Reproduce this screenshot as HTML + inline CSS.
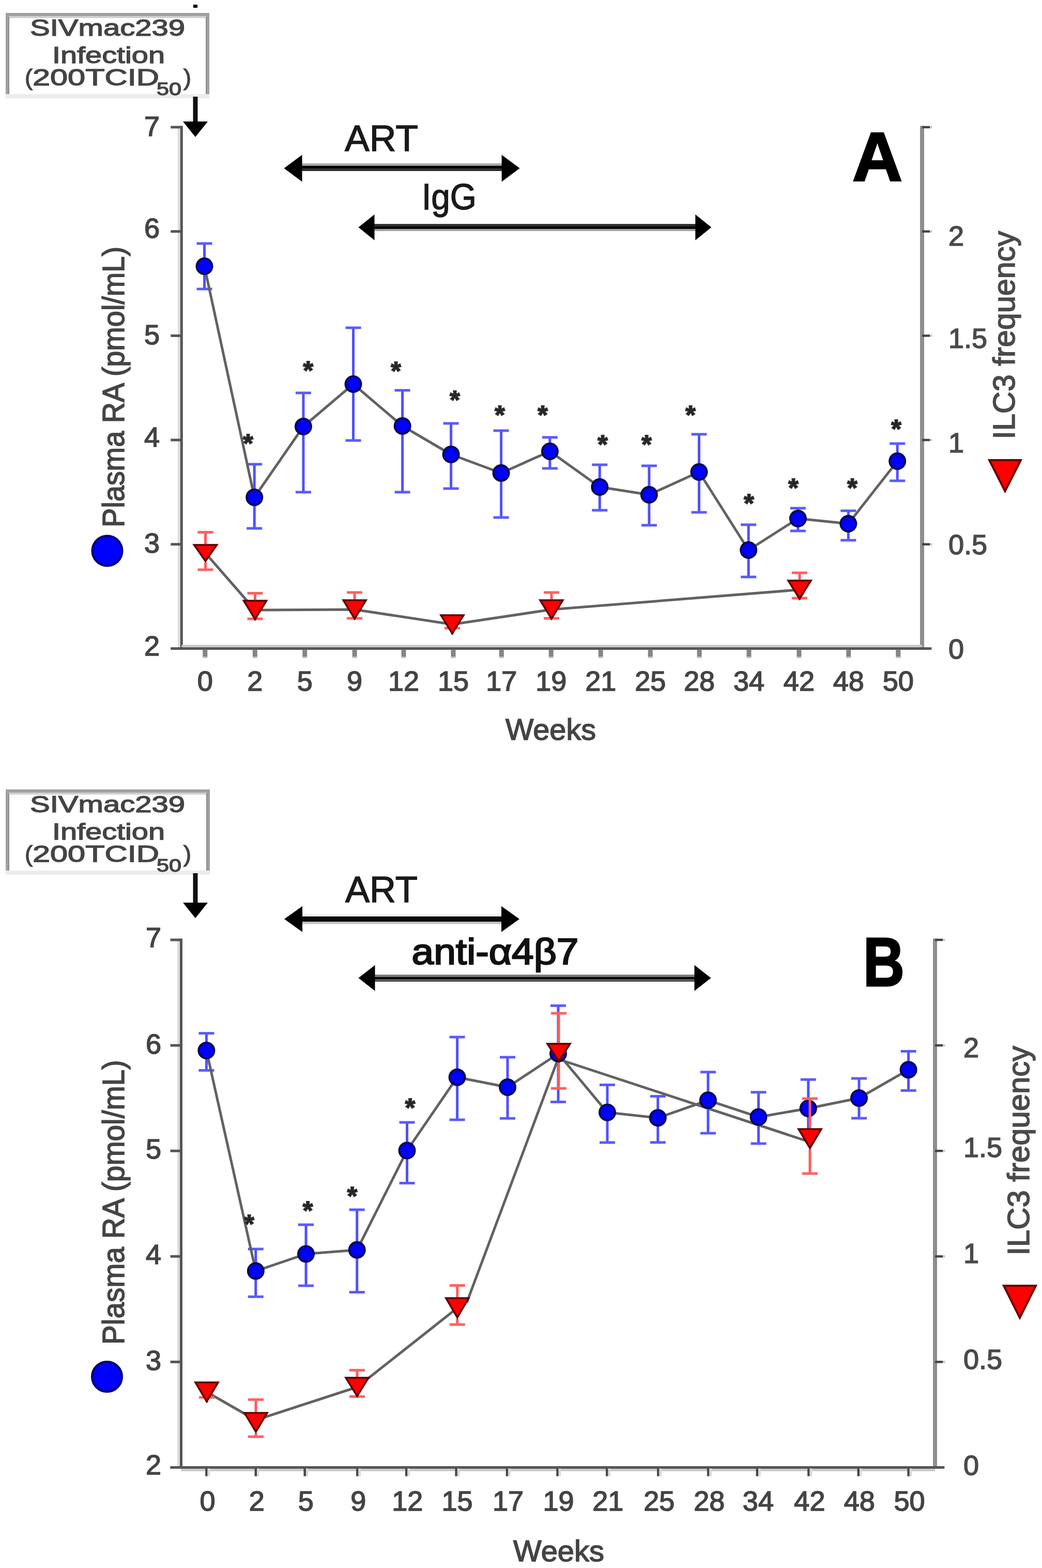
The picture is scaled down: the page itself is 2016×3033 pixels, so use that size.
<!DOCTYPE html><html><head><meta charset="utf-8"><title>Plasma RA and ILC3 frequency</title><style>html,body{margin:0;padding:0;background:#fff;}svg{display:block;}text{font-family:"Liberation Sans", Arial, sans-serif;}</style></head><body>
<svg width="2016" height="3033" viewBox="0 0 2016 3033">
<rect width="2016" height="3033" fill="#fff"/>
<rect x="374" y="9" width="8" height="6" fill="#000"/>
<rect x="14" y="28" width="388" height="159" fill="none" stroke="#a0a0a0" stroke-width="6"/>
<line x1="17" y1="33" x2="399" y2="33" stroke="#d0d0d0" stroke-width="4"/>
<line x1="17" y1="33" x2="17" y2="184" stroke="#8c8c8c" stroke-width="2"/>
<line x1="399" y1="33" x2="399" y2="184" stroke="#8c8c8c" stroke-width="2"/>
<line x1="11" y1="186" x2="405" y2="186" stroke="#ececec" stroke-width="8"/>
<text x="208" y="69" font-size="45" text-anchor="middle" fill="#444" stroke="#444" stroke-width="1.4" textLength="300" lengthAdjust="spacingAndGlyphs">SIVmac239</text>
<text x="210" y="121.5" font-size="45" text-anchor="middle" fill="#444" stroke="#444" stroke-width="1.4" textLength="218" lengthAdjust="spacingAndGlyphs">Infection</text>
<text x="48" y="165" font-size="45" fill="#444" stroke="#444" stroke-width="1.4">(<tspan textLength="245" lengthAdjust="spacingAndGlyphs">200TCID</tspan><tspan x="303" font-size="35" dy="19" textLength="48" lengthAdjust="spacingAndGlyphs">50</tspan><tspan x="355" dy="-19">)</tspan></text>
<line x1="378.0" y1="187.0" x2="378.0" y2="235.0" stroke="#111" stroke-width="9" />
<polygon points="354,235 402,235 378,265" fill="#000"/>
<rect x="579.5" y="316" width="396.1" height="4.6" fill="#aaa"/>
<rect x="579.5" y="320.6" width="396.1" height="5.6" fill="#000"/>
<rect x="579.5" y="326.2" width="396.1" height="4.6" fill="#2a2a2a"/>
<polygon points="549.5,325.5 584.5,299.5 584.5,351.5" fill="#000"/>
<polygon points="1005.6,325.5 970.6,299.5 970.6,351.5" fill="#000"/>
<rect x="723.5" y="433.2" width="622.8" height="4.6" fill="#2a2a2a"/>
<rect x="723.5" y="437.8" width="622.8" height="5.1" fill="#000"/>
<rect x="723.5" y="442.9" width="622.8" height="4.1" fill="#a4a4a4"/>
<polygon points="693.5,439.8 724.5,414.8 724.5,464.8" fill="#000"/>
<polygon points="1376.3,439.8 1345.3,414.8 1345.3,464.8" fill="#000"/>
<text x="738.0" y="291.7" font-size="70" text-anchor="middle" fill="#1a1a1a" font-weight="normal" textLength="142" lengthAdjust="spacingAndGlyphs" stroke="#1a1a1a" stroke-width="1.4">ART</text>
<text x="869.0" y="405.0" font-size="70" text-anchor="middle" fill="#1a1a1a" font-weight="normal" textLength="106" lengthAdjust="spacingAndGlyphs" stroke="#1a1a1a" stroke-width="1.4">IgG</text>
<text x="1697.5" y="350.0" font-size="134" text-anchor="middle" fill="#000" font-weight="bold" textLength="97" lengthAdjust="spacingAndGlyphs" stroke="#000" stroke-width="3">A</text>
<line x1="346.3" y1="246.0" x2="346.3" y2="1254.5" stroke="#dcdcdc" stroke-width="5" />
<line x1="351.3" y1="243.5" x2="351.3" y2="1257.0" stroke="#555" stroke-width="5" />
<line x1="330.3" y1="246.0" x2="351.3" y2="246.0" stroke="#555" stroke-width="5" />
<text x="309.0" y="263.0" font-size="54" text-anchor="end" fill="#444" font-weight="normal" stroke="#444" stroke-width="1.6">7</text>
<line x1="330.3" y1="447.7" x2="351.3" y2="447.7" stroke="#555" stroke-width="5" />
<text x="309.0" y="460.2" font-size="54" text-anchor="end" fill="#444" font-weight="normal" stroke="#444" stroke-width="1.6">6</text>
<line x1="330.3" y1="649.4" x2="351.3" y2="649.4" stroke="#555" stroke-width="5" />
<text x="309.0" y="666.3" font-size="54" text-anchor="end" fill="#444" font-weight="normal" stroke="#444" stroke-width="1.6">5</text>
<line x1="330.3" y1="851.1" x2="351.3" y2="851.1" stroke="#555" stroke-width="5" />
<text x="309.0" y="864.0" font-size="54" text-anchor="end" fill="#444" font-weight="normal" stroke="#444" stroke-width="1.6">4</text>
<line x1="330.3" y1="1052.8" x2="351.3" y2="1052.8" stroke="#555" stroke-width="5" />
<text x="309.0" y="1069.3" font-size="54" text-anchor="end" fill="#444" font-weight="normal" stroke="#444" stroke-width="1.6">3</text>
<line x1="330.3" y1="1254.5" x2="351.3" y2="1254.5" stroke="#555" stroke-width="5" />
<text x="309.0" y="1268.0" font-size="54" text-anchor="end" fill="#444" font-weight="normal" stroke="#444" stroke-width="1.6">2</text>
<line x1="1784.0" y1="243.5" x2="1784.0" y2="1257.0" stroke="#8e8e8e" stroke-width="8" />
<line x1="1784.0" y1="246.0" x2="1799.0" y2="246.0" stroke="#444" stroke-width="4.5" />
<line x1="1799.0" y1="246.0" x2="1803.5" y2="246.0" stroke="#c8c8c8" stroke-width="4.5" />
<line x1="1784.0" y1="447.7" x2="1799.0" y2="447.7" stroke="#444" stroke-width="4.5" />
<line x1="1799.0" y1="447.7" x2="1803.5" y2="447.7" stroke="#c8c8c8" stroke-width="4.5" />
<text x="1835.0" y="475.2" font-size="54" text-anchor="start" fill="#4a4a4a" font-weight="normal" stroke="#4a4a4a" stroke-width="1.6">2</text>
<line x1="1784.0" y1="649.4" x2="1799.0" y2="649.4" stroke="#444" stroke-width="4.5" />
<line x1="1799.0" y1="649.4" x2="1803.5" y2="649.4" stroke="#c8c8c8" stroke-width="4.5" />
<text x="1835.0" y="672.9" font-size="54" text-anchor="start" fill="#4a4a4a" font-weight="normal" stroke="#4a4a4a" stroke-width="1.6">1.5</text>
<line x1="1784.0" y1="851.1" x2="1799.0" y2="851.1" stroke="#444" stroke-width="4.5" />
<line x1="1799.0" y1="851.1" x2="1803.5" y2="851.1" stroke="#c8c8c8" stroke-width="4.5" />
<text x="1835.0" y="874.6" font-size="54" text-anchor="start" fill="#4a4a4a" font-weight="normal" stroke="#4a4a4a" stroke-width="1.6">1</text>
<line x1="1784.0" y1="1052.8" x2="1799.0" y2="1052.8" stroke="#444" stroke-width="4.5" />
<line x1="1799.0" y1="1052.8" x2="1803.5" y2="1052.8" stroke="#c8c8c8" stroke-width="4.5" />
<text x="1835.0" y="1072.3" font-size="54" text-anchor="start" fill="#4a4a4a" font-weight="normal" stroke="#4a4a4a" stroke-width="1.6">0.5</text>
<line x1="1784.0" y1="1254.5" x2="1799.0" y2="1254.5" stroke="#444" stroke-width="4.5" />
<line x1="1799.0" y1="1254.5" x2="1803.5" y2="1254.5" stroke="#c8c8c8" stroke-width="4.5" />
<text x="1835.0" y="1274.0" font-size="54" text-anchor="start" fill="#4a4a4a" font-weight="normal" stroke="#4a4a4a" stroke-width="1.6">0</text>
<line x1="330.3" y1="1254.5" x2="1802.0" y2="1254.5" stroke="#555" stroke-width="5" />
<line x1="351.3" y1="1249.5" x2="1784.0" y2="1249.5" stroke="#c8c8c8" stroke-width="4.5" />
<line x1="396.8" y1="1256.5" x2="396.8" y2="1270.5" stroke="#858585" stroke-width="9" />
<line x1="396.8" y1="1270.5" x2="396.8" y2="1273.0" stroke="#c0c0c0" stroke-width="9" />
<text x="396.8" y="1336.0" font-size="54" text-anchor="middle" fill="#444" font-weight="normal" stroke="#444" stroke-width="1.6">0</text>
<line x1="493.3" y1="1256.5" x2="493.3" y2="1270.5" stroke="#858585" stroke-width="9" />
<line x1="493.3" y1="1270.5" x2="493.3" y2="1273.0" stroke="#c0c0c0" stroke-width="9" />
<text x="493.3" y="1336.0" font-size="54" text-anchor="middle" fill="#444" font-weight="normal" stroke="#444" stroke-width="1.6">2</text>
<line x1="589.7" y1="1256.5" x2="589.7" y2="1270.5" stroke="#858585" stroke-width="9" />
<line x1="589.7" y1="1270.5" x2="589.7" y2="1273.0" stroke="#c0c0c0" stroke-width="9" />
<text x="589.7" y="1336.0" font-size="54" text-anchor="middle" fill="#444" font-weight="normal" stroke="#444" stroke-width="1.6">5</text>
<line x1="686.1" y1="1256.5" x2="686.1" y2="1270.5" stroke="#858585" stroke-width="9" />
<line x1="686.1" y1="1270.5" x2="686.1" y2="1273.0" stroke="#c0c0c0" stroke-width="9" />
<text x="686.1" y="1336.0" font-size="54" text-anchor="middle" fill="#444" font-weight="normal" stroke="#444" stroke-width="1.6">9</text>
<line x1="781.0" y1="1256.5" x2="781.0" y2="1270.5" stroke="#858585" stroke-width="9" />
<line x1="781.0" y1="1270.5" x2="781.0" y2="1273.0" stroke="#c0c0c0" stroke-width="9" />
<text x="781.0" y="1336.0" font-size="54" text-anchor="middle" fill="#444" font-weight="normal" stroke="#444" stroke-width="1.6">12</text>
<line x1="877.0" y1="1256.5" x2="877.0" y2="1270.5" stroke="#858585" stroke-width="9" />
<line x1="877.0" y1="1270.5" x2="877.0" y2="1273.0" stroke="#c0c0c0" stroke-width="9" />
<text x="877.0" y="1336.0" font-size="54" text-anchor="middle" fill="#444" font-weight="normal" stroke="#444" stroke-width="1.6">15</text>
<line x1="970.3" y1="1256.5" x2="970.3" y2="1270.5" stroke="#858585" stroke-width="9" />
<line x1="970.3" y1="1270.5" x2="970.3" y2="1273.0" stroke="#c0c0c0" stroke-width="9" />
<text x="970.3" y="1336.0" font-size="54" text-anchor="middle" fill="#444" font-weight="normal" stroke="#444" stroke-width="1.6">17</text>
<line x1="1066.2" y1="1256.5" x2="1066.2" y2="1270.5" stroke="#858585" stroke-width="9" />
<line x1="1066.2" y1="1270.5" x2="1066.2" y2="1273.0" stroke="#c0c0c0" stroke-width="9" />
<text x="1066.2" y="1336.0" font-size="54" text-anchor="middle" fill="#444" font-weight="normal" stroke="#444" stroke-width="1.6">19</text>
<line x1="1162.2" y1="1256.5" x2="1162.2" y2="1270.5" stroke="#858585" stroke-width="9" />
<line x1="1162.2" y1="1270.5" x2="1162.2" y2="1273.0" stroke="#c0c0c0" stroke-width="9" />
<text x="1162.2" y="1336.0" font-size="54" text-anchor="middle" fill="#444" font-weight="normal" stroke="#444" stroke-width="1.6">21</text>
<line x1="1258.2" y1="1256.5" x2="1258.2" y2="1270.5" stroke="#858585" stroke-width="9" />
<line x1="1258.2" y1="1270.5" x2="1258.2" y2="1273.0" stroke="#c0c0c0" stroke-width="9" />
<text x="1258.2" y="1336.0" font-size="54" text-anchor="middle" fill="#444" font-weight="normal" stroke="#444" stroke-width="1.6">25</text>
<line x1="1353.1" y1="1256.5" x2="1353.1" y2="1270.5" stroke="#858585" stroke-width="9" />
<line x1="1353.1" y1="1270.5" x2="1353.1" y2="1273.0" stroke="#c0c0c0" stroke-width="9" />
<text x="1353.1" y="1336.0" font-size="54" text-anchor="middle" fill="#444" font-weight="normal" stroke="#444" stroke-width="1.6">28</text>
<line x1="1449.0" y1="1256.5" x2="1449.0" y2="1270.5" stroke="#858585" stroke-width="9" />
<line x1="1449.0" y1="1270.5" x2="1449.0" y2="1273.0" stroke="#c0c0c0" stroke-width="9" />
<text x="1449.0" y="1336.0" font-size="54" text-anchor="middle" fill="#444" font-weight="normal" stroke="#444" stroke-width="1.6">34</text>
<line x1="1545.9" y1="1256.5" x2="1545.9" y2="1270.5" stroke="#858585" stroke-width="9" />
<line x1="1545.9" y1="1270.5" x2="1545.9" y2="1273.0" stroke="#c0c0c0" stroke-width="9" />
<text x="1545.9" y="1336.0" font-size="54" text-anchor="middle" fill="#444" font-weight="normal" stroke="#444" stroke-width="1.6">42</text>
<line x1="1641.8" y1="1256.5" x2="1641.8" y2="1270.5" stroke="#858585" stroke-width="9" />
<line x1="1641.8" y1="1270.5" x2="1641.8" y2="1273.0" stroke="#c0c0c0" stroke-width="9" />
<text x="1641.8" y="1336.0" font-size="54" text-anchor="middle" fill="#444" font-weight="normal" stroke="#444" stroke-width="1.6">48</text>
<line x1="1737.8" y1="1256.5" x2="1737.8" y2="1270.5" stroke="#858585" stroke-width="9" />
<line x1="1737.8" y1="1270.5" x2="1737.8" y2="1273.0" stroke="#c0c0c0" stroke-width="9" />
<text x="1737.8" y="1336.0" font-size="54" text-anchor="middle" fill="#444" font-weight="normal" stroke="#444" stroke-width="1.6">50</text>
<text x="978.0" y="1431.0" font-size="58" text-anchor="start" fill="#444" font-weight="normal" textLength="175" lengthAdjust="spacingAndGlyphs" stroke="#444" stroke-width="1.6">Weeks</text>
<text transform="translate(240,1020) rotate(-90)" font-size="60" fill="#444" stroke="#444" stroke-width="1.6" textLength="543" lengthAdjust="spacingAndGlyphs">Plasma RA (pmol/mL)</text>
<text transform="translate(1963,849.7) rotate(-90)" font-size="59" fill="#4a4a4a" stroke="#4a4a4a" stroke-width="1.6" textLength="402.90000000000003" lengthAdjust="spacingAndGlyphs">ILC3 frequency</text>
<circle cx="207.5" cy="1065.5" r="29" fill="#0000ff" stroke="#000070" stroke-width="4"/>
<polygon points="1914,890 1975,890 1944.5,950" fill="#ff0000" stroke="#6a0000" stroke-width="4" stroke-linejoin="miter"/>
<line x1="395.5" y1="471.0" x2="395.5" y2="515.0" stroke="#5050ff" stroke-width="5" />
<line x1="380.5" y1="471.0" x2="410.5" y2="471.0" stroke="#5a5aff" stroke-width="5" />
<line x1="395.5" y1="515.0" x2="395.5" y2="559.0" stroke="#5050ff" stroke-width="5" />
<line x1="380.5" y1="559.0" x2="410.5" y2="559.0" stroke="#5a5aff" stroke-width="5" />
<line x1="492.2" y1="898.0" x2="492.2" y2="962.0" stroke="#5050ff" stroke-width="5" />
<line x1="477.2" y1="898.0" x2="507.2" y2="898.0" stroke="#5a5aff" stroke-width="5" />
<line x1="492.2" y1="962.0" x2="492.2" y2="1022.0" stroke="#5050ff" stroke-width="5" />
<line x1="477.2" y1="1022.0" x2="507.2" y2="1022.0" stroke="#5a5aff" stroke-width="5" />
<line x1="586.9" y1="760.0" x2="586.9" y2="825.0" stroke="#5050ff" stroke-width="5" />
<line x1="571.9" y1="760.0" x2="601.9" y2="760.0" stroke="#5a5aff" stroke-width="5" />
<line x1="586.9" y1="825.0" x2="586.9" y2="952.0" stroke="#5050ff" stroke-width="5" />
<line x1="571.9" y1="952.0" x2="601.9" y2="952.0" stroke="#5a5aff" stroke-width="5" />
<line x1="683.5" y1="634.0" x2="683.5" y2="743.0" stroke="#5050ff" stroke-width="5" />
<line x1="668.5" y1="634.0" x2="698.5" y2="634.0" stroke="#5a5aff" stroke-width="5" />
<line x1="683.5" y1="743.0" x2="683.5" y2="852.0" stroke="#5050ff" stroke-width="5" />
<line x1="668.5" y1="852.0" x2="698.5" y2="852.0" stroke="#5a5aff" stroke-width="5" />
<line x1="778.6" y1="755.0" x2="778.6" y2="824.0" stroke="#5050ff" stroke-width="5" />
<line x1="763.6" y1="755.0" x2="793.6" y2="755.0" stroke="#5a5aff" stroke-width="5" />
<line x1="778.6" y1="824.0" x2="778.6" y2="952.0" stroke="#5050ff" stroke-width="5" />
<line x1="763.6" y1="952.0" x2="793.6" y2="952.0" stroke="#5a5aff" stroke-width="5" />
<line x1="872.6" y1="819.0" x2="872.6" y2="879.0" stroke="#5050ff" stroke-width="5" />
<line x1="857.6" y1="819.0" x2="887.6" y2="819.0" stroke="#5a5aff" stroke-width="5" />
<line x1="872.6" y1="879.0" x2="872.6" y2="945.0" stroke="#5050ff" stroke-width="5" />
<line x1="857.6" y1="945.0" x2="887.6" y2="945.0" stroke="#5a5aff" stroke-width="5" />
<line x1="969.6" y1="833.0" x2="969.6" y2="915.0" stroke="#5050ff" stroke-width="5" />
<line x1="954.6" y1="833.0" x2="984.6" y2="833.0" stroke="#5a5aff" stroke-width="5" />
<line x1="969.6" y1="915.0" x2="969.6" y2="1001.0" stroke="#5050ff" stroke-width="5" />
<line x1="954.6" y1="1001.0" x2="984.6" y2="1001.0" stroke="#5a5aff" stroke-width="5" />
<line x1="1063.9" y1="846.0" x2="1063.9" y2="873.0" stroke="#5050ff" stroke-width="5" />
<line x1="1048.9" y1="846.0" x2="1078.9" y2="846.0" stroke="#5a5aff" stroke-width="5" />
<line x1="1063.9" y1="873.0" x2="1063.9" y2="906.0" stroke="#5050ff" stroke-width="5" />
<line x1="1048.9" y1="906.0" x2="1078.9" y2="906.0" stroke="#5a5aff" stroke-width="5" />
<line x1="1160.3" y1="899.0" x2="1160.3" y2="942.0" stroke="#5050ff" stroke-width="5" />
<line x1="1145.3" y1="899.0" x2="1175.3" y2="899.0" stroke="#5a5aff" stroke-width="5" />
<line x1="1160.3" y1="942.0" x2="1160.3" y2="987.0" stroke="#5050ff" stroke-width="5" />
<line x1="1145.3" y1="987.0" x2="1175.3" y2="987.0" stroke="#5a5aff" stroke-width="5" />
<line x1="1255.9" y1="901.0" x2="1255.9" y2="957.0" stroke="#5050ff" stroke-width="5" />
<line x1="1240.9" y1="901.0" x2="1270.9" y2="901.0" stroke="#5a5aff" stroke-width="5" />
<line x1="1255.9" y1="957.0" x2="1255.9" y2="1016.0" stroke="#5050ff" stroke-width="5" />
<line x1="1240.9" y1="1016.0" x2="1270.9" y2="1016.0" stroke="#5a5aff" stroke-width="5" />
<line x1="1352.5" y1="840.0" x2="1352.5" y2="913.0" stroke="#5050ff" stroke-width="5" />
<line x1="1337.5" y1="840.0" x2="1367.5" y2="840.0" stroke="#5a5aff" stroke-width="5" />
<line x1="1352.5" y1="913.0" x2="1352.5" y2="991.0" stroke="#5050ff" stroke-width="5" />
<line x1="1337.5" y1="991.0" x2="1367.5" y2="991.0" stroke="#5a5aff" stroke-width="5" />
<line x1="1448.2" y1="1015.0" x2="1448.2" y2="1064.0" stroke="#5050ff" stroke-width="5" />
<line x1="1433.2" y1="1015.0" x2="1463.2" y2="1015.0" stroke="#5a5aff" stroke-width="5" />
<line x1="1448.2" y1="1064.0" x2="1448.2" y2="1116.0" stroke="#5050ff" stroke-width="5" />
<line x1="1433.2" y1="1116.0" x2="1463.2" y2="1116.0" stroke="#5a5aff" stroke-width="5" />
<line x1="1543.9" y1="983.0" x2="1543.9" y2="1003.0" stroke="#5050ff" stroke-width="5" />
<line x1="1528.9" y1="983.0" x2="1558.9" y2="983.0" stroke="#5a5aff" stroke-width="5" />
<line x1="1543.9" y1="1003.0" x2="1543.9" y2="1027.0" stroke="#5050ff" stroke-width="5" />
<line x1="1528.9" y1="1027.0" x2="1558.9" y2="1027.0" stroke="#5a5aff" stroke-width="5" />
<line x1="1641.3" y1="988.0" x2="1641.3" y2="1013.0" stroke="#5050ff" stroke-width="5" />
<line x1="1626.3" y1="988.0" x2="1656.3" y2="988.0" stroke="#5a5aff" stroke-width="5" />
<line x1="1641.3" y1="1013.0" x2="1641.3" y2="1045.0" stroke="#5050ff" stroke-width="5" />
<line x1="1626.3" y1="1045.0" x2="1656.3" y2="1045.0" stroke="#5a5aff" stroke-width="5" />
<line x1="1736.2" y1="858.0" x2="1736.2" y2="892.0" stroke="#5050ff" stroke-width="5" />
<line x1="1721.2" y1="858.0" x2="1751.2" y2="858.0" stroke="#5a5aff" stroke-width="5" />
<line x1="1736.2" y1="892.0" x2="1736.2" y2="930.0" stroke="#5050ff" stroke-width="5" />
<line x1="1721.2" y1="930.0" x2="1751.2" y2="930.0" stroke="#5a5aff" stroke-width="5" />
<polyline points="395.5,515.0 492.2,962.0 586.9,825.0 683.5,743.0 778.6,824.0 872.6,879.0 969.6,915.0 1063.9,873.0 1160.3,942.0 1255.9,957.0 1352.5,913.0 1448.2,1064.0 1543.9,1003.0 1641.3,1013.0 1736.2,892.0" fill="none" stroke="#626262" stroke-width="5" stroke-linejoin="round"/>
<polyline points="397.5,1069.8 493.5,1180.0 686.1,1179.0 875.0,1207.8 1067.0,1179.0 1547.0,1140.7" fill="none" stroke="#626262" stroke-width="5" stroke-linejoin="round"/>
<circle cx="395.5" cy="515.0" r="15" fill="#0000ff" stroke="#0a0a50" stroke-width="4"/>
<circle cx="492.2" cy="962.0" r="15" fill="#0000ff" stroke="#0a0a50" stroke-width="4"/>
<circle cx="586.9" cy="825.0" r="15" fill="#0000ff" stroke="#0a0a50" stroke-width="4"/>
<circle cx="683.5" cy="743.0" r="15" fill="#0000ff" stroke="#0a0a50" stroke-width="4"/>
<circle cx="778.6" cy="824.0" r="15" fill="#0000ff" stroke="#0a0a50" stroke-width="4"/>
<circle cx="872.6" cy="879.0" r="15" fill="#0000ff" stroke="#0a0a50" stroke-width="4"/>
<circle cx="969.6" cy="915.0" r="15" fill="#0000ff" stroke="#0a0a50" stroke-width="4"/>
<circle cx="1063.9" cy="873.0" r="15" fill="#0000ff" stroke="#0a0a50" stroke-width="4"/>
<circle cx="1160.3" cy="942.0" r="15" fill="#0000ff" stroke="#0a0a50" stroke-width="4"/>
<circle cx="1255.9" cy="957.0" r="15" fill="#0000ff" stroke="#0a0a50" stroke-width="4"/>
<circle cx="1352.5" cy="913.0" r="15" fill="#0000ff" stroke="#0a0a50" stroke-width="4"/>
<circle cx="1448.2" cy="1064.0" r="15" fill="#0000ff" stroke="#0a0a50" stroke-width="4"/>
<circle cx="1543.9" cy="1003.0" r="15" fill="#0000ff" stroke="#0a0a50" stroke-width="4"/>
<circle cx="1641.3" cy="1013.0" r="15" fill="#0000ff" stroke="#0a0a50" stroke-width="4"/>
<circle cx="1736.2" cy="892.0" r="15" fill="#0000ff" stroke="#0a0a50" stroke-width="4"/>
<line x1="397.5" y1="1029.5" x2="397.5" y2="1052.0" stroke="#ff5a5a" stroke-width="5" />
<line x1="382.5" y1="1029.5" x2="412.5" y2="1029.5" stroke="#ff6060" stroke-width="5" />
<line x1="397.5" y1="1087.5" x2="397.5" y2="1102.0" stroke="#ff5a5a" stroke-width="5" />
<line x1="382.5" y1="1102.0" x2="412.5" y2="1102.0" stroke="#ff6060" stroke-width="5" />
<line x1="493.5" y1="1147.5" x2="493.5" y2="1160.0" stroke="#ff5a5a" stroke-width="5" />
<line x1="478.5" y1="1147.5" x2="508.5" y2="1147.5" stroke="#ff6060" stroke-width="5" />
<line x1="493.5" y1="1200.0" x2="493.5" y2="1197.0" stroke="#ff5a5a" stroke-width="5" />
<line x1="478.5" y1="1197.0" x2="508.5" y2="1197.0" stroke="#ff6060" stroke-width="5" />
<line x1="686.1" y1="1146.0" x2="686.1" y2="1159.0" stroke="#ff5a5a" stroke-width="5" />
<line x1="671.1" y1="1146.0" x2="701.1" y2="1146.0" stroke="#ff6060" stroke-width="5" />
<line x1="686.1" y1="1199.0" x2="686.1" y2="1196.0" stroke="#ff5a5a" stroke-width="5" />
<line x1="671.1" y1="1196.0" x2="701.1" y2="1196.0" stroke="#ff6060" stroke-width="5" />
<line x1="875.0" y1="1227.5" x2="875.0" y2="1215.0" stroke="#ff5a5a" stroke-width="5" />
<line x1="860.0" y1="1215.0" x2="890.0" y2="1215.0" stroke="#ff6060" stroke-width="5" />
<line x1="1067.0" y1="1146.0" x2="1067.0" y2="1159.0" stroke="#ff5a5a" stroke-width="5" />
<line x1="1052.0" y1="1146.0" x2="1082.0" y2="1146.0" stroke="#ff6060" stroke-width="5" />
<line x1="1067.0" y1="1199.0" x2="1067.0" y2="1196.0" stroke="#ff5a5a" stroke-width="5" />
<line x1="1052.0" y1="1196.0" x2="1082.0" y2="1196.0" stroke="#ff6060" stroke-width="5" />
<line x1="1547.0" y1="1108.0" x2="1547.0" y2="1121.0" stroke="#ff5a5a" stroke-width="5" />
<line x1="1532.0" y1="1108.0" x2="1562.0" y2="1108.0" stroke="#ff6060" stroke-width="5" />
<line x1="1547.0" y1="1160.4" x2="1547.0" y2="1157.0" stroke="#ff5a5a" stroke-width="5" />
<line x1="1532.0" y1="1157.0" x2="1562.0" y2="1157.0" stroke="#ff6060" stroke-width="5" />
<polygon points="375.5,1054.0 419.5,1054.0 397.5,1085.5" fill="#ff0000" stroke="#5a0000" stroke-width="3.5"/>
<polygon points="471.5,1162.0 515.5,1162.0 493.5,1198.0" fill="#ff0000" stroke="#5a0000" stroke-width="3.5"/>
<polygon points="664.1,1161.0 708.1,1161.0 686.1,1197.0" fill="#ff0000" stroke="#5a0000" stroke-width="3.5"/>
<polygon points="853.0,1190.0 897.0,1190.0 875.0,1225.5" fill="#ff0000" stroke="#5a0000" stroke-width="3.5"/>
<polygon points="1045.0,1161.0 1089.0,1161.0 1067.0,1197.0" fill="#ff0000" stroke="#5a0000" stroke-width="3.5"/>
<polygon points="1525.0,1123.0 1569.0,1123.0 1547.0,1158.4" fill="#ff0000" stroke="#5a0000" stroke-width="3.5"/>
<text x="480.0" y="875.0" font-size="50" text-anchor="middle" fill="#222" font-weight="bold" stroke="#333" stroke-width="2">*</text>
<text x="596.3" y="734.4" font-size="50" text-anchor="middle" fill="#222" font-weight="bold" stroke="#333" stroke-width="2">*</text>
<text x="766.0" y="735.0" font-size="50" text-anchor="middle" fill="#222" font-weight="bold" stroke="#333" stroke-width="2">*</text>
<text x="880.0" y="791.0" font-size="50" text-anchor="middle" fill="#222" font-weight="bold" stroke="#333" stroke-width="2">*</text>
<text x="967.0" y="820.0" font-size="50" text-anchor="middle" fill="#222" font-weight="bold" stroke="#333" stroke-width="2">*</text>
<text x="1050.0" y="820.0" font-size="50" text-anchor="middle" fill="#222" font-weight="bold" stroke="#333" stroke-width="2">*</text>
<text x="1166.0" y="877.0" font-size="50" text-anchor="middle" fill="#222" font-weight="bold" stroke="#333" stroke-width="2">*</text>
<text x="1251.0" y="877.0" font-size="50" text-anchor="middle" fill="#222" font-weight="bold" stroke="#333" stroke-width="2">*</text>
<text x="1336.0" y="820.0" font-size="50" text-anchor="middle" fill="#222" font-weight="bold" stroke="#333" stroke-width="2">*</text>
<text x="1449.0" y="991.0" font-size="50" text-anchor="middle" fill="#222" font-weight="bold" stroke="#333" stroke-width="2">*</text>
<text x="1535.0" y="961.0" font-size="50" text-anchor="middle" fill="#222" font-weight="bold" stroke="#333" stroke-width="2">*</text>
<text x="1649.0" y="961.0" font-size="50" text-anchor="middle" fill="#222" font-weight="bold" stroke="#333" stroke-width="2">*</text>
<text x="1734.0" y="847.0" font-size="50" text-anchor="middle" fill="#222" font-weight="bold" stroke="#333" stroke-width="2">*</text>
<rect x="14" y="1530" width="389" height="159" fill="none" stroke="#a0a0a0" stroke-width="6"/>
<line x1="17" y1="1535" x2="400" y2="1535" stroke="#d0d0d0" stroke-width="4"/>
<line x1="17" y1="1535" x2="17" y2="1686" stroke="#8c8c8c" stroke-width="2"/>
<line x1="400" y1="1535" x2="400" y2="1686" stroke="#8c8c8c" stroke-width="2"/>
<line x1="11" y1="1688" x2="406" y2="1688" stroke="#ececec" stroke-width="8"/>
<text x="208" y="1571" font-size="45" text-anchor="middle" fill="#444" stroke="#444" stroke-width="1.4" textLength="300" lengthAdjust="spacingAndGlyphs">SIVmac239</text>
<text x="210" y="1623.5" font-size="45" text-anchor="middle" fill="#444" stroke="#444" stroke-width="1.4" textLength="218" lengthAdjust="spacingAndGlyphs">Infection</text>
<text x="48" y="1667" font-size="45" fill="#444" stroke="#444" stroke-width="1.4">(<tspan textLength="245" lengthAdjust="spacingAndGlyphs">200TCID</tspan><tspan x="303" font-size="35" dy="19" textLength="48" lengthAdjust="spacingAndGlyphs">50</tspan><tspan x="355" dy="-19">)</tspan></text>
<line x1="378.0" y1="1689.0" x2="378.0" y2="1746.0" stroke="#111" stroke-width="9" />
<polygon points="354,1746 402,1746 378,1776" fill="#000"/>
<rect x="580" y="1768" width="395.0" height="4.7" fill="#eee"/>
<rect x="580" y="1772.7" width="395.0" height="10.2" fill="#0a0a0a"/>
<rect x="580" y="1782.9" width="395.0" height="4.5" fill="#c4c4c4"/>
<polygon points="550,1777.7 585,1752.7 585,1802.7" fill="#000"/>
<polygon points="1005,1777.7 970,1752.7 970,1802.7" fill="#000"/>
<rect x="723.5" y="1885.2" width="622.0" height="4.6" fill="#7a7a7a"/>
<rect x="723.5" y="1889.8" width="622.0" height="4.6" fill="#000"/>
<rect x="723.5" y="1894.4" width="622.0" height="4.6" fill="#555"/>
<polygon points="693.5,1891.7 725.5,1866.7 725.5,1916.7" fill="#000"/>
<polygon points="1375.5,1891.7 1343.5,1866.7 1343.5,1916.7" fill="#000"/>
<text x="738.0" y="1744.5" font-size="70" text-anchor="middle" fill="#1a1a1a" font-weight="normal" textLength="140" lengthAdjust="spacingAndGlyphs" stroke="#1a1a1a" stroke-width="1.4">ART</text>
<text x="958.0" y="1864.5" font-size="70" text-anchor="middle" fill="#111" font-weight="normal" textLength="323" lengthAdjust="spacingAndGlyphs" stroke="#111" stroke-width="2.4">anti-α4β7</text>
<text x="1710.0" y="1907.0" font-size="134" text-anchor="middle" fill="#000" font-weight="bold" textLength="80" lengthAdjust="spacingAndGlyphs" stroke="#000" stroke-width="3">B</text>
<line x1="345.5" y1="1818.0" x2="345.5" y2="2838.5" stroke="#dcdcdc" stroke-width="5" />
<line x1="350.5" y1="1815.5" x2="350.5" y2="2841.0" stroke="#555" stroke-width="5" />
<line x1="329.5" y1="1818.0" x2="350.5" y2="1818.0" stroke="#555" stroke-width="5" />
<text x="312.0" y="1831.5" font-size="54" text-anchor="end" fill="#444" font-weight="normal" stroke="#444" stroke-width="1.6">7</text>
<line x1="329.5" y1="2022.1" x2="350.5" y2="2022.1" stroke="#555" stroke-width="5" />
<text x="312.0" y="2038.1" font-size="54" text-anchor="end" fill="#444" font-weight="normal" stroke="#444" stroke-width="1.6">6</text>
<line x1="329.5" y1="2226.2" x2="350.5" y2="2226.2" stroke="#555" stroke-width="5" />
<text x="312.0" y="2240.7" font-size="54" text-anchor="end" fill="#444" font-weight="normal" stroke="#444" stroke-width="1.6">5</text>
<line x1="329.5" y1="2430.3" x2="350.5" y2="2430.3" stroke="#555" stroke-width="5" />
<text x="312.0" y="2444.8" font-size="54" text-anchor="end" fill="#444" font-weight="normal" stroke="#444" stroke-width="1.6">4</text>
<line x1="329.5" y1="2634.4" x2="350.5" y2="2634.4" stroke="#555" stroke-width="5" />
<text x="312.0" y="2649.9" font-size="54" text-anchor="end" fill="#444" font-weight="normal" stroke="#444" stroke-width="1.6">3</text>
<line x1="329.5" y1="2838.5" x2="350.5" y2="2838.5" stroke="#555" stroke-width="5" />
<text x="312.0" y="2852.0" font-size="54" text-anchor="end" fill="#444" font-weight="normal" stroke="#444" stroke-width="1.6">2</text>
<line x1="1809.0" y1="1815.5" x2="1809.0" y2="2841.0" stroke="#8e8e8e" stroke-width="8" />
<line x1="1809.0" y1="1818.0" x2="1824.0" y2="1818.0" stroke="#444" stroke-width="4.5" />
<line x1="1824.0" y1="1818.0" x2="1828.5" y2="1818.0" stroke="#c8c8c8" stroke-width="4.5" />
<line x1="1809.0" y1="2022.1" x2="1824.0" y2="2022.1" stroke="#444" stroke-width="4.5" />
<line x1="1824.0" y1="2022.1" x2="1828.5" y2="2022.1" stroke="#c8c8c8" stroke-width="4.5" />
<text x="1864.0" y="2044.6" font-size="54" text-anchor="start" fill="#4a4a4a" font-weight="normal" stroke="#4a4a4a" stroke-width="1.6">2</text>
<line x1="1809.0" y1="2226.2" x2="1824.0" y2="2226.2" stroke="#444" stroke-width="4.5" />
<line x1="1824.0" y1="2226.2" x2="1828.5" y2="2226.2" stroke="#c8c8c8" stroke-width="4.5" />
<text x="1864.0" y="2237.7" font-size="54" text-anchor="start" fill="#4a4a4a" font-weight="normal" stroke="#4a4a4a" stroke-width="1.6">1.5</text>
<line x1="1809.0" y1="2430.3" x2="1824.0" y2="2430.3" stroke="#444" stroke-width="4.5" />
<line x1="1824.0" y1="2430.3" x2="1828.5" y2="2430.3" stroke="#c8c8c8" stroke-width="4.5" />
<text x="1864.0" y="2442.8" font-size="54" text-anchor="start" fill="#4a4a4a" font-weight="normal" stroke="#4a4a4a" stroke-width="1.6">1</text>
<line x1="1809.0" y1="2634.4" x2="1824.0" y2="2634.4" stroke="#444" stroke-width="4.5" />
<line x1="1824.0" y1="2634.4" x2="1828.5" y2="2634.4" stroke="#c8c8c8" stroke-width="4.5" />
<text x="1864.0" y="2647.9" font-size="54" text-anchor="start" fill="#4a4a4a" font-weight="normal" stroke="#4a4a4a" stroke-width="1.6">0.5</text>
<line x1="1809.0" y1="2838.5" x2="1824.0" y2="2838.5" stroke="#444" stroke-width="4.5" />
<line x1="1824.0" y1="2838.5" x2="1828.5" y2="2838.5" stroke="#c8c8c8" stroke-width="4.5" />
<text x="1864.0" y="2852.5" font-size="54" text-anchor="start" fill="#4a4a4a" font-weight="normal" stroke="#4a4a4a" stroke-width="1.6">0</text>
<line x1="329.5" y1="2838.5" x2="1827.0" y2="2838.5" stroke="#555" stroke-width="5" />
<line x1="350.5" y1="2843.5" x2="1809.0" y2="2843.5" stroke="#c8c8c8" stroke-width="4.5" />
<line x1="399.4" y1="2840.5" x2="399.4" y2="2855.5" stroke="#484848" stroke-width="4.5" />
<line x1="403.9" y1="2840.5" x2="403.9" y2="2855.5" stroke="#dadada" stroke-width="4.5" />
<text x="401.4" y="2922.0" font-size="54" text-anchor="middle" fill="#444" font-weight="normal" stroke="#444" stroke-width="1.6">0</text>
<line x1="494.8" y1="2840.5" x2="494.8" y2="2855.5" stroke="#484848" stroke-width="4.5" />
<line x1="499.3" y1="2840.5" x2="499.3" y2="2855.5" stroke="#dadada" stroke-width="4.5" />
<text x="496.8" y="2922.0" font-size="54" text-anchor="middle" fill="#444" font-weight="normal" stroke="#444" stroke-width="1.6">2</text>
<line x1="589.7" y1="2840.5" x2="589.7" y2="2855.5" stroke="#484848" stroke-width="4.5" />
<line x1="594.2" y1="2840.5" x2="594.2" y2="2855.5" stroke="#dadada" stroke-width="4.5" />
<text x="591.7" y="2922.0" font-size="54" text-anchor="middle" fill="#444" font-weight="normal" stroke="#444" stroke-width="1.6">5</text>
<line x1="691.3" y1="2840.5" x2="691.3" y2="2855.5" stroke="#484848" stroke-width="4.5" />
<line x1="695.8" y1="2840.5" x2="695.8" y2="2855.5" stroke="#dadada" stroke-width="4.5" />
<text x="693.3" y="2922.0" font-size="54" text-anchor="middle" fill="#444" font-weight="normal" stroke="#444" stroke-width="1.6">9</text>
<line x1="786.2" y1="2840.5" x2="786.2" y2="2855.5" stroke="#484848" stroke-width="4.5" />
<line x1="790.7" y1="2840.5" x2="790.7" y2="2855.5" stroke="#dadada" stroke-width="4.5" />
<text x="788.2" y="2922.0" font-size="54" text-anchor="middle" fill="#444" font-weight="normal" stroke="#444" stroke-width="1.6">12</text>
<line x1="882.6" y1="2840.5" x2="882.6" y2="2855.5" stroke="#484848" stroke-width="4.5" />
<line x1="887.1" y1="2840.5" x2="887.1" y2="2855.5" stroke="#dadada" stroke-width="4.5" />
<text x="884.6" y="2922.0" font-size="54" text-anchor="middle" fill="#444" font-weight="normal" stroke="#444" stroke-width="1.6">15</text>
<line x1="981.0" y1="2840.5" x2="981.0" y2="2855.5" stroke="#484848" stroke-width="4.5" />
<line x1="985.5" y1="2840.5" x2="985.5" y2="2855.5" stroke="#dadada" stroke-width="4.5" />
<text x="983.0" y="2922.0" font-size="54" text-anchor="middle" fill="#444" font-weight="normal" stroke="#444" stroke-width="1.6">17</text>
<line x1="1078.5" y1="2840.5" x2="1078.5" y2="2855.5" stroke="#484848" stroke-width="4.5" />
<line x1="1083.0" y1="2840.5" x2="1083.0" y2="2855.5" stroke="#dadada" stroke-width="4.5" />
<text x="1080.5" y="2922.0" font-size="54" text-anchor="middle" fill="#444" font-weight="normal" stroke="#444" stroke-width="1.6">19</text>
<line x1="1174.3" y1="2840.5" x2="1174.3" y2="2855.5" stroke="#484848" stroke-width="4.5" />
<line x1="1178.8" y1="2840.5" x2="1178.8" y2="2855.5" stroke="#dadada" stroke-width="4.5" />
<text x="1176.3" y="2922.0" font-size="54" text-anchor="middle" fill="#444" font-weight="normal" stroke="#444" stroke-width="1.6">21</text>
<line x1="1273.3" y1="2840.5" x2="1273.3" y2="2855.5" stroke="#484848" stroke-width="4.5" />
<line x1="1277.8" y1="2840.5" x2="1277.8" y2="2855.5" stroke="#dadada" stroke-width="4.5" />
<text x="1275.3" y="2922.0" font-size="54" text-anchor="middle" fill="#444" font-weight="normal" stroke="#444" stroke-width="1.6">25</text>
<line x1="1370.2" y1="2840.5" x2="1370.2" y2="2855.5" stroke="#484848" stroke-width="4.5" />
<line x1="1374.7" y1="2840.5" x2="1374.7" y2="2855.5" stroke="#dadada" stroke-width="4.5" />
<text x="1372.2" y="2922.0" font-size="54" text-anchor="middle" fill="#444" font-weight="normal" stroke="#444" stroke-width="1.6">28</text>
<line x1="1464.9" y1="2840.5" x2="1464.9" y2="2855.5" stroke="#484848" stroke-width="4.5" />
<line x1="1469.4" y1="2840.5" x2="1469.4" y2="2855.5" stroke="#dadada" stroke-width="4.5" />
<text x="1466.9" y="2922.0" font-size="54" text-anchor="middle" fill="#444" font-weight="normal" stroke="#444" stroke-width="1.6">34</text>
<line x1="1564.4" y1="2840.5" x2="1564.4" y2="2855.5" stroke="#484848" stroke-width="4.5" />
<line x1="1568.9" y1="2840.5" x2="1568.9" y2="2855.5" stroke="#dadada" stroke-width="4.5" />
<text x="1566.4" y="2922.0" font-size="54" text-anchor="middle" fill="#444" font-weight="normal" stroke="#444" stroke-width="1.6">42</text>
<line x1="1660.8" y1="2840.5" x2="1660.8" y2="2855.5" stroke="#484848" stroke-width="4.5" />
<line x1="1665.3" y1="2840.5" x2="1665.3" y2="2855.5" stroke="#dadada" stroke-width="4.5" />
<text x="1662.8" y="2922.0" font-size="54" text-anchor="middle" fill="#444" font-weight="normal" stroke="#444" stroke-width="1.6">48</text>
<line x1="1757.6" y1="2840.5" x2="1757.6" y2="2855.5" stroke="#484848" stroke-width="4.5" />
<line x1="1762.1" y1="2840.5" x2="1762.1" y2="2855.5" stroke="#dadada" stroke-width="4.5" />
<text x="1759.6" y="2922.0" font-size="54" text-anchor="middle" fill="#444" font-weight="normal" stroke="#444" stroke-width="1.6">50</text>
<text x="993.0" y="3020.0" font-size="58" text-anchor="start" fill="#444" font-weight="normal" textLength="176" lengthAdjust="spacingAndGlyphs" stroke="#444" stroke-width="1.6">Weeks</text>
<text transform="translate(240,2601) rotate(-90)" font-size="60" fill="#444" stroke="#444" stroke-width="1.6" textLength="551" lengthAdjust="spacingAndGlyphs">Plasma RA (pmol/mL)</text>
<text transform="translate(1991,2428.6) rotate(-90)" font-size="59" fill="#4a4a4a" stroke="#4a4a4a" stroke-width="1.6" textLength="405.5999999999999" lengthAdjust="spacingAndGlyphs">ILC3 frequency</text>
<circle cx="207" cy="2663" r="29" fill="#0000ff" stroke="#000070" stroke-width="4"/>
<polygon points="1942,2487 2004,2487 1973.0,2549" fill="#ff0000" stroke="#6a0000" stroke-width="4" stroke-linejoin="miter"/>
<line x1="399.4" y1="1998.7" x2="399.4" y2="2032.0" stroke="#5050ff" stroke-width="5" />
<line x1="384.4" y1="1998.7" x2="414.4" y2="1998.7" stroke="#5a5aff" stroke-width="5" />
<line x1="399.4" y1="2032.0" x2="399.4" y2="2070.4" stroke="#5050ff" stroke-width="5" />
<line x1="384.4" y1="2070.4" x2="414.4" y2="2070.4" stroke="#5a5aff" stroke-width="5" />
<line x1="494.8" y1="2416.0" x2="494.8" y2="2458.5" stroke="#5050ff" stroke-width="5" />
<line x1="479.8" y1="2416.0" x2="509.8" y2="2416.0" stroke="#5a5aff" stroke-width="5" />
<line x1="494.8" y1="2458.5" x2="494.8" y2="2508.3" stroke="#5050ff" stroke-width="5" />
<line x1="479.8" y1="2508.3" x2="509.8" y2="2508.3" stroke="#5a5aff" stroke-width="5" />
<line x1="592.0" y1="2369.0" x2="592.0" y2="2425.5" stroke="#5050ff" stroke-width="5" />
<line x1="577.0" y1="2369.0" x2="607.0" y2="2369.0" stroke="#5a5aff" stroke-width="5" />
<line x1="592.0" y1="2425.5" x2="592.0" y2="2487.0" stroke="#5050ff" stroke-width="5" />
<line x1="577.0" y1="2487.0" x2="607.0" y2="2487.0" stroke="#5a5aff" stroke-width="5" />
<line x1="690.7" y1="2340.0" x2="690.7" y2="2417.8" stroke="#5050ff" stroke-width="5" />
<line x1="675.7" y1="2340.0" x2="705.7" y2="2340.0" stroke="#5a5aff" stroke-width="5" />
<line x1="690.7" y1="2417.8" x2="690.7" y2="2499.5" stroke="#5050ff" stroke-width="5" />
<line x1="675.7" y1="2499.5" x2="705.7" y2="2499.5" stroke="#5a5aff" stroke-width="5" />
<line x1="787.5" y1="2171.0" x2="787.5" y2="2225.4" stroke="#5050ff" stroke-width="5" />
<line x1="772.5" y1="2171.0" x2="802.5" y2="2171.0" stroke="#5a5aff" stroke-width="5" />
<line x1="787.5" y1="2225.4" x2="787.5" y2="2288.5" stroke="#5050ff" stroke-width="5" />
<line x1="772.5" y1="2288.5" x2="802.5" y2="2288.5" stroke="#5a5aff" stroke-width="5" />
<line x1="884.6" y1="2006.0" x2="884.6" y2="2083.7" stroke="#5050ff" stroke-width="5" />
<line x1="869.6" y1="2006.0" x2="899.6" y2="2006.0" stroke="#5a5aff" stroke-width="5" />
<line x1="884.6" y1="2083.7" x2="884.6" y2="2166.0" stroke="#5050ff" stroke-width="5" />
<line x1="869.6" y1="2166.0" x2="899.6" y2="2166.0" stroke="#5a5aff" stroke-width="5" />
<line x1="982.0" y1="2045.0" x2="982.0" y2="2103.0" stroke="#5050ff" stroke-width="5" />
<line x1="967.0" y1="2045.0" x2="997.0" y2="2045.0" stroke="#5a5aff" stroke-width="5" />
<line x1="982.0" y1="2103.0" x2="982.0" y2="2163.3" stroke="#5050ff" stroke-width="5" />
<line x1="967.0" y1="2163.3" x2="997.0" y2="2163.3" stroke="#5a5aff" stroke-width="5" />
<line x1="1080.0" y1="1945.3" x2="1080.0" y2="2038.0" stroke="#5050ff" stroke-width="5" />
<line x1="1065.0" y1="1945.3" x2="1095.0" y2="1945.3" stroke="#5a5aff" stroke-width="5" />
<line x1="1080.0" y1="2038.0" x2="1080.0" y2="2131.5" stroke="#5050ff" stroke-width="5" />
<line x1="1065.0" y1="2131.5" x2="1095.0" y2="2131.5" stroke="#5a5aff" stroke-width="5" />
<line x1="1175.0" y1="2098.5" x2="1175.0" y2="2151.8" stroke="#5050ff" stroke-width="5" />
<line x1="1160.0" y1="2098.5" x2="1190.0" y2="2098.5" stroke="#5a5aff" stroke-width="5" />
<line x1="1175.0" y1="2151.8" x2="1175.0" y2="2210.0" stroke="#5050ff" stroke-width="5" />
<line x1="1160.0" y1="2210.0" x2="1190.0" y2="2210.0" stroke="#5a5aff" stroke-width="5" />
<line x1="1272.8" y1="2120.5" x2="1272.8" y2="2162.3" stroke="#5050ff" stroke-width="5" />
<line x1="1257.8" y1="2120.5" x2="1287.8" y2="2120.5" stroke="#5a5aff" stroke-width="5" />
<line x1="1272.8" y1="2162.3" x2="1272.8" y2="2209.8" stroke="#5050ff" stroke-width="5" />
<line x1="1257.8" y1="2209.8" x2="1287.8" y2="2209.8" stroke="#5a5aff" stroke-width="5" />
<line x1="1369.9" y1="2073.7" x2="1369.9" y2="2128.3" stroke="#5050ff" stroke-width="5" />
<line x1="1354.9" y1="2073.7" x2="1384.9" y2="2073.7" stroke="#5a5aff" stroke-width="5" />
<line x1="1369.9" y1="2128.3" x2="1369.9" y2="2192.0" stroke="#5050ff" stroke-width="5" />
<line x1="1354.9" y1="2192.0" x2="1384.9" y2="2192.0" stroke="#5a5aff" stroke-width="5" />
<line x1="1467.5" y1="2112.7" x2="1467.5" y2="2160.7" stroke="#5050ff" stroke-width="5" />
<line x1="1452.5" y1="2112.7" x2="1482.5" y2="2112.7" stroke="#5a5aff" stroke-width="5" />
<line x1="1467.5" y1="2160.7" x2="1467.5" y2="2212.0" stroke="#5050ff" stroke-width="5" />
<line x1="1452.5" y1="2212.0" x2="1482.5" y2="2212.0" stroke="#5a5aff" stroke-width="5" />
<line x1="1563.8" y1="2088.2" x2="1563.8" y2="2144.0" stroke="#5050ff" stroke-width="5" />
<line x1="1548.8" y1="2088.2" x2="1578.8" y2="2088.2" stroke="#5a5aff" stroke-width="5" />
<line x1="1563.8" y1="2144.0" x2="1563.8" y2="2186.0" stroke="#5050ff" stroke-width="5" />
<line x1="1548.8" y1="2186.0" x2="1578.8" y2="2186.0" stroke="#5a5aff" stroke-width="5" />
<line x1="1662.0" y1="2086.0" x2="1662.0" y2="2124.0" stroke="#5050ff" stroke-width="5" />
<line x1="1647.0" y1="2086.0" x2="1677.0" y2="2086.0" stroke="#5a5aff" stroke-width="5" />
<line x1="1662.0" y1="2124.0" x2="1662.0" y2="2163.0" stroke="#5050ff" stroke-width="5" />
<line x1="1647.0" y1="2163.0" x2="1677.0" y2="2163.0" stroke="#5a5aff" stroke-width="5" />
<line x1="1757.6" y1="2033.5" x2="1757.6" y2="2069.2" stroke="#5050ff" stroke-width="5" />
<line x1="1742.6" y1="2033.5" x2="1772.6" y2="2033.5" stroke="#5a5aff" stroke-width="5" />
<line x1="1757.6" y1="2069.2" x2="1757.6" y2="2109.4" stroke="#5050ff" stroke-width="5" />
<line x1="1742.6" y1="2109.4" x2="1772.6" y2="2109.4" stroke="#5a5aff" stroke-width="5" />
<polyline points="399.4,2032.0 494.8,2458.5 592.0,2425.5 690.7,2417.8 787.5,2225.4 884.6,2083.7 982.0,2103.0 1080.0,2038.0 1175.0,2151.8 1272.8,2162.3 1369.9,2128.3 1467.5,2160.7 1563.8,2144.0 1662.0,2124.0 1757.6,2069.2" fill="none" stroke="#626262" stroke-width="5" stroke-linejoin="round"/>
<path d="M400,2692.5 L494.7,2747 L691,2683 L884.8,2530 M903,2519.7 L1081,2044.6 M1081,2049 L1567,2209" fill="none" stroke="#626262" stroke-width="5" stroke-linejoin="round"/>
<circle cx="399.4" cy="2032.0" r="15" fill="#0000ff" stroke="#0a0a50" stroke-width="4"/>
<circle cx="494.8" cy="2458.5" r="15" fill="#0000ff" stroke="#0a0a50" stroke-width="4"/>
<circle cx="592.0" cy="2425.5" r="15" fill="#0000ff" stroke="#0a0a50" stroke-width="4"/>
<circle cx="690.7" cy="2417.8" r="15" fill="#0000ff" stroke="#0a0a50" stroke-width="4"/>
<circle cx="787.5" cy="2225.4" r="15" fill="#0000ff" stroke="#0a0a50" stroke-width="4"/>
<circle cx="884.6" cy="2083.7" r="15" fill="#0000ff" stroke="#0a0a50" stroke-width="4"/>
<circle cx="982.0" cy="2103.0" r="15" fill="#0000ff" stroke="#0a0a50" stroke-width="4"/>
<circle cx="1080.0" cy="2038.0" r="15" fill="#0000ff" stroke="#0a0a50" stroke-width="4"/>
<circle cx="1175.0" cy="2151.8" r="15" fill="#0000ff" stroke="#0a0a50" stroke-width="4"/>
<circle cx="1272.8" cy="2162.3" r="15" fill="#0000ff" stroke="#0a0a50" stroke-width="4"/>
<circle cx="1369.9" cy="2128.3" r="15" fill="#0000ff" stroke="#0a0a50" stroke-width="4"/>
<circle cx="1467.5" cy="2160.7" r="15" fill="#0000ff" stroke="#0a0a50" stroke-width="4"/>
<circle cx="1563.8" cy="2144.0" r="15" fill="#0000ff" stroke="#0a0a50" stroke-width="4"/>
<circle cx="1662.0" cy="2124.0" r="15" fill="#0000ff" stroke="#0a0a50" stroke-width="4"/>
<circle cx="1757.6" cy="2069.2" r="15" fill="#0000ff" stroke="#0a0a50" stroke-width="4"/>
<line x1="400.0" y1="2713.0" x2="400.0" y2="2703.0" stroke="#ff5a5a" stroke-width="5" />
<line x1="385.0" y1="2703.0" x2="415.0" y2="2703.0" stroke="#ff6060" stroke-width="5" />
<line x1="495.0" y1="2707.3" x2="495.0" y2="2731.0" stroke="#ff5a5a" stroke-width="5" />
<line x1="480.0" y1="2707.3" x2="510.0" y2="2707.3" stroke="#ff6060" stroke-width="5" />
<line x1="495.0" y1="2771.6" x2="495.0" y2="2779.0" stroke="#ff5a5a" stroke-width="5" />
<line x1="480.0" y1="2779.0" x2="510.0" y2="2779.0" stroke="#ff6060" stroke-width="5" />
<line x1="691.0" y1="2650.4" x2="691.0" y2="2663.0" stroke="#ff5a5a" stroke-width="5" />
<line x1="676.0" y1="2650.4" x2="706.0" y2="2650.4" stroke="#ff6060" stroke-width="5" />
<line x1="691.0" y1="2702.7" x2="691.0" y2="2701.4" stroke="#ff5a5a" stroke-width="5" />
<line x1="676.0" y1="2701.4" x2="706.0" y2="2701.4" stroke="#ff6060" stroke-width="5" />
<line x1="884.8" y1="2486.5" x2="884.8" y2="2509.0" stroke="#ff5a5a" stroke-width="5" />
<line x1="869.8" y1="2486.5" x2="899.8" y2="2486.5" stroke="#ff6060" stroke-width="5" />
<line x1="884.8" y1="2550.6" x2="884.8" y2="2562.1" stroke="#ff5a5a" stroke-width="5" />
<line x1="869.8" y1="2562.1" x2="899.8" y2="2562.1" stroke="#ff6060" stroke-width="5" />
<line x1="1081.0" y1="1960.0" x2="1081.0" y2="2017.0" stroke="#ff5a5a" stroke-width="5" />
<line x1="1066.0" y1="1960.0" x2="1096.0" y2="1960.0" stroke="#ff6060" stroke-width="5" />
<line x1="1081.0" y1="2055.0" x2="1081.0" y2="2105.3" stroke="#ff5a5a" stroke-width="5" />
<line x1="1066.0" y1="2105.3" x2="1096.0" y2="2105.3" stroke="#ff6060" stroke-width="5" />
<line x1="1567.0" y1="2125.0" x2="1567.0" y2="2182.0" stroke="#ff5a5a" stroke-width="5" />
<line x1="1552.0" y1="2125.0" x2="1582.0" y2="2125.0" stroke="#ff6060" stroke-width="5" />
<line x1="1567.0" y1="2223.0" x2="1567.0" y2="2270.0" stroke="#ff5a5a" stroke-width="5" />
<line x1="1552.0" y1="2270.0" x2="1582.0" y2="2270.0" stroke="#ff6060" stroke-width="5" />
<polygon points="378.0,2674.0 422.0,2674.0 400.0,2711.0" fill="#ff0000" stroke="#5a0000" stroke-width="3.5"/>
<polygon points="473.0,2733.0 517.0,2733.0 495.0,2769.6" fill="#ff0000" stroke="#5a0000" stroke-width="3.5"/>
<polygon points="669.0,2665.0 713.0,2665.0 691.0,2700.7" fill="#ff0000" stroke="#5a0000" stroke-width="3.5"/>
<polygon points="862.8,2511.0 906.8,2511.0 884.8,2548.6" fill="#ff0000" stroke="#5a0000" stroke-width="3.5"/>
<polygon points="1059.0,2019.0 1103.0,2019.0 1081.0,2053.0" fill="#ff0000" stroke="#5a0000" stroke-width="3.5"/>
<polygon points="1545.0,2184.0 1589.0,2184.0 1567.0,2221.0" fill="#ff0000" stroke="#5a0000" stroke-width="3.5"/>
<text x="482.0" y="2385.0" font-size="50" text-anchor="middle" fill="#222" font-weight="bold" stroke="#333" stroke-width="2">*</text>
<text x="595.4" y="2359.4" font-size="50" text-anchor="middle" fill="#222" font-weight="bold" stroke="#333" stroke-width="2">*</text>
<text x="681.5" y="2331.0" font-size="50" text-anchor="middle" fill="#222" font-weight="bold" stroke="#333" stroke-width="2">*</text>
<text x="793.4" y="2160.0" font-size="50" text-anchor="middle" fill="#222" font-weight="bold" stroke="#333" stroke-width="2">*</text>
</svg></body></html>
